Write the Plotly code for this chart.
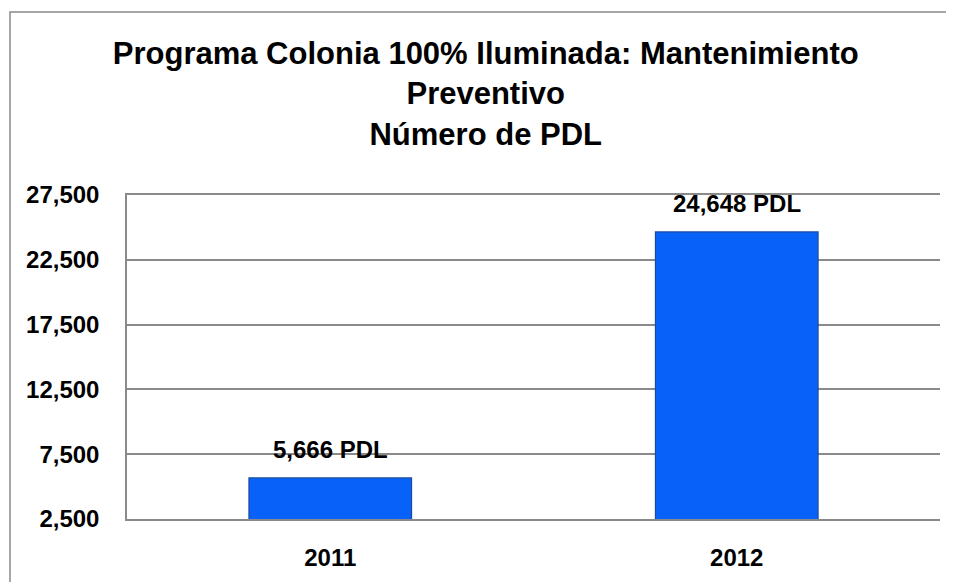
import plotly.graph_objects as go

categories = ["2011", "2012"]
values = [5666, 24648]
value_labels = ["5,666 PDL", "24,648 PDL"]
y_ticks = [2500, 7500, 12500, 17500, 22500, 27500]
title_lines = ["Programa Colonia 100% Iluminada: Mantenimiento", "Preventivo", "Número de PDL"]

FONT = "Liberation Sans, Arial, sans-serif"
GRID = "#8a8a8a"

# page body has an 8px margin, so the figure is sized to fit the window after it
W, H = 946, 574
L, R, T, B = 119, 14, 187, 63
pw, ph = W - L - R, H - T - B

fig = go.Figure()
fig.add_trace(go.Bar(
    x=categories, y=values,
    marker=dict(color="#0862FA", line=dict(color="#1A4C9E", width=1.2)),
    width=0.4,
    hoverinfo="skip",
))

for i, (v, t) in enumerate(zip(values, value_labels)):
    fig.add_annotation(x=i, y=v, text=t, showarrow=False,
                       xref="x", yref="y",
                       yanchor="bottom", yshift=13,
                       font=dict(family=FONT, size=24, color="black", weight="bold"))

# outer chart border (top and left visible)
fig.add_shape(type="rect", xref="paper", yref="paper",
              x0=(2 - L) / pw, x1=(W + 30 - L) / pw,
              y0=-(B + 30) / ph, y1=(H - B - 4) / ph,
              line=dict(color=GRID, width=1.5), fillcolor="rgba(0,0,0,0)", layer="below")

fig.update_layout(
    width=W, height=H,
    margin=dict(l=L, r=R, t=T, b=B, autoexpand=False),
    paper_bgcolor="white", plot_bgcolor="white",
    showlegend=False,
    title=dict(text="<br>".join(title_lines),
               x=0.505, xanchor="center", xref="container",
               y=1 - 56 / H, yanchor="top", automargin=False,
               font=dict(family=FONT, size=31, color="black", weight="bold")),
    font=dict(family=FONT, color="black"),
)

fig.update_yaxes(range=[y_ticks[0], y_ticks[-1]], tickvals=y_ticks,
                 tickformat=",d", showgrid=True, gridcolor=GRID, gridwidth=1.5,
                 showline=True, linecolor=GRID, linewidth=1.5, zeroline=False,
                 ticks="", ticklabelstandoff=21, automargin=False,
                 tickfont=dict(family=FONT, size=24, color="black", weight="bold"))
fig.update_xaxes(type="category", range=[-0.5, len(categories) - 0.5],
                 showline=True, mirror=True, linecolor=GRID, linewidth=1.5,
                 ticks="", ticklabelstandoff=16,
                 automargin=False,
                 tickfont=dict(family=FONT, size=24, color="black", weight="bold"))

fig.write_html("out.html")
